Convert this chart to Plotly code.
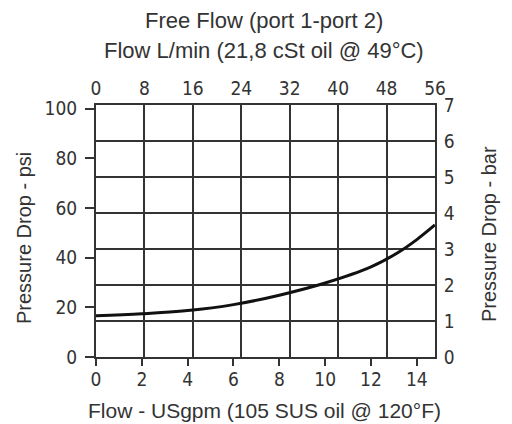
import plotly.graph_objects as go

# Data
flow_gpm = [0, 2, 4, 6, 8, 10, 12, 13.2, 14, 14.79]
pressure_psi = [16.6, 17.4, 18.7, 21.1, 24.9, 29.8, 36.3, 42.2, 47.3, 53.2]

gpm_ticks = [0, 2, 4, 6, 8, 10, 12, 14]
psi_ticks = [0, 20, 40, 60, 80, 100]
lpm_ticks = [0, 8, 16, 24, 32, 40, 48, 56]
bar_ticks = [0, 1, 2, 3, 4, 5, 6, 7]

GPM_MAX = 56 / 3.7854
PSI_MAX = 7 * 14.5038

tick_font = dict(family="DejaVu Sans Condensed, sans-serif", size=19, color="#333")
LINE = "#333"

# page body has an 8px margin; work in page pixels and shift
OFF = 8
W, H = 512, 424
PL, PT, PR, PB = 96, 105, 435, 357   # plot area in page pixels
L, T = PL - OFF, PT - OFF
R = W - (PR - OFF)
B = H - (PB - OFF)

fig = go.Figure()
fig.add_trace(go.Scatter(x=flow_gpm, y=pressure_psi, mode="lines",
                         line=dict(color="#111", width=3, shape="spline"),
                         xaxis="x2", yaxis="y2", showlegend=False, hoverinfo="skip"))
fig.add_trace(go.Scatter(x=[0], y=[0], mode="markers", marker=dict(opacity=0),
                         xaxis="x", yaxis="y", showlegend=False, hoverinfo="skip"))

fig.update_layout(
    width=W, height=H,
    margin=dict(l=L, r=R, t=T, b=B, autoexpand=False),
    paper_bgcolor="white", plot_bgcolor="white",
    xaxis=dict(range=[0, 56], side="top", tickvals=lpm_ticks, ticks="",
               showgrid=True, gridcolor=LINE, gridwidth=2,
               showline=True, linecolor=LINE, linewidth=2, automargin=False,
               zeroline=False, tickfont=tick_font, ticklabelstandoff=0),
    yaxis=dict(range=[0, 7], side="right", tickvals=bar_ticks, ticks="",
               showgrid=True, gridcolor=LINE, gridwidth=2,
               showline=True, linecolor=LINE, linewidth=2, automargin=False,
               zeroline=False, tickfont=tick_font, ticklabelstandoff=3),
    xaxis2=dict(range=[0, GPM_MAX], side="bottom", overlaying="x", tickvals=gpm_ticks,
                ticks="outside", ticklen=7, tickwidth=2, tickcolor=LINE,
                showgrid=False, showline=True, linecolor=LINE, linewidth=2, automargin=False,
                zeroline=False, tickfont=tick_font, ticklabelstandoff=-3),
    yaxis2=dict(range=[0, PSI_MAX], side="left", overlaying="y", tickvals=psi_ticks,
                ticks="outside", ticklen=9, tickwidth=2, tickcolor=LINE,
                showgrid=False, showline=True, linecolor=LINE, linewidth=2, automargin=False,
                zeroline=False, tickfont=tick_font, ticklabelstandoff=4),
)

pw, ph = PR - PL, PB - PT
def px(x):
    return (x - PL) / pw
def py(y):
    return (PB - y) / ph

anns = [
    ("Free Flow (port 1-port 2)", 264, 20, 0, 22),
    ("Flow L/min (21,8 cSt oil @ 49°C)", 264, 50, 0, 22),
    ("Flow - USgpm (105 SUS oil @ 120°F)", 264, 410, 0, 21),
    ("Pressure Drop - psi", 24, 238, -90, 20),
    ("Pressure Drop - bar", 489, 234, -90, 20),
]
for text, x, y, ang, size in anns:
    fig.add_annotation(text=text, x=px(x), y=py(y), xref="paper", yref="paper",
                       xanchor="center", yanchor="middle", showarrow=False,
                       textangle=ang,
                       font=dict(family="Liberation Sans, Arial, sans-serif", size=size, color="#333"))

fig.write_html("out.html")
